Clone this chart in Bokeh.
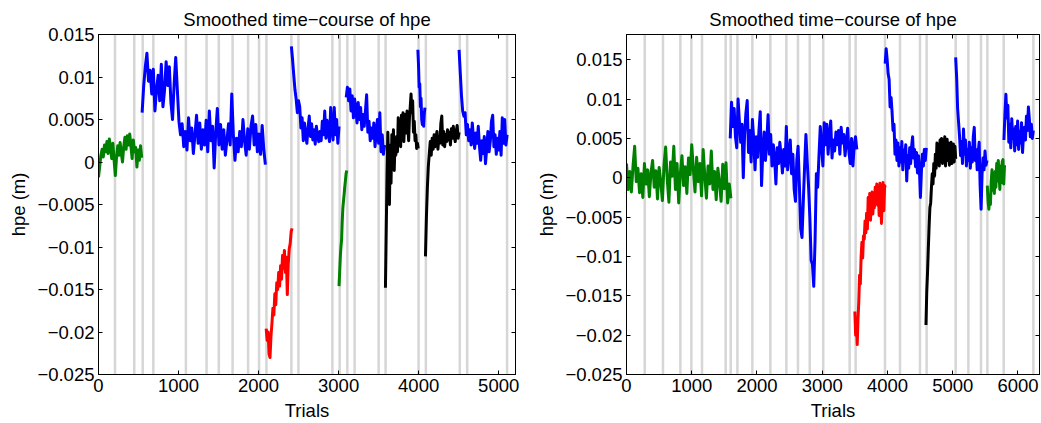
import numpy as np
from bokeh.plotting import figure
from bokeh.models import FixedTicker, LinearAxis, CustomJSTickFormatter, Range1d
from bokeh.layouts import row
from bokeh.embed import file_html
from bokeh.resources import INLINE

TITLE = "Smoothed time\u2212course of hpe"
X_LABEL = "Trials"
Y_LABEL = "hpe (m)"
Y_TICKS = [-0.025, -0.02, -0.015, -0.01, -0.005, 0, 0.005, 0.01, 0.015]
LEFT_X_TICKS = [0, 1000, 2000, 3000, 4000, 5000]
RIGHT_X_TICKS = [0, 1000, 2000, 3000, 4000, 5000, 6000]
LEFT_XMAX = 5210
RIGHT_XMAX = 6330
LEFT_YMAX = 0.015
RIGHT_YMAX = 0.0182
YMIN = -0.025

# block boundaries (trials)
LEFT_BLOCKS = [206, 447, 552, 685, 1092, 1350, 1503, 1675, 1869, 2006, 2098, 2410, 2498,
               2922, 3013, 3109, 3200, 3500, 3587, 3999, 4090, 4514, 4606, 5105]
RIGHT_BLOCKS = [279, 559, 826, 994, 1157, 1520, 1597, 1700, 1929, 2205, 2450, 2628, 2808,
                3015, 3420, 3512, 3962, 4192, 4498, 4600, 5045, 5240, 5433, 5531, 5781, 6236]

GREEN = "#008000"
BLUE = "#0000FF"
RED = "#FF0000"
BLACK = "#000000"

# ---------------- left panel segments (hpe in mm) ----------------
L1_span = (0, 540)
L1_green = [-1.8, -0.5, 0.8, 1.5, 0.6, 2.0, 1.2, 2.4, 1.0, 2.7, 1.8, 0.4, 2.2, 0.2, -1.6, 0.5,
            1.9, 0.8, 2.3, 1.0, 0.0, 1.8, 2.9, 1.5, 3.1, 2.0, 3.3, 1.9, 0.4, 2.6, 1.2, 1.7,
            -0.6, 1.4, 0.2, 1.9, 0.5]
L2_span = (545, 2085)
L2_blue = [5.8, 9.0, 11.2, 12.8, 9.5, 10.8, 8.0, 10.9, 6.0, 8.5, 10.2, 7.2, 11.5, 6.5, 8.4, 11.8,
           9.0, 11.2, 7.0, 5.0, 9.2, 12.3, 8.5, 4.8, 3.2, 4.5, 1.8, 3.6, 1.4, 5.2, 2.5, 4.0,
           1.0, 3.2, 5.5, 2.2, 4.6, 1.5, 3.8, 2.0, 4.9, 1.2, 6.0, 2.5, 4.2, -0.7, 3.5, 6.3,
           2.0, 4.4, 1.5, 3.8, 0.8, 2.6, 4.5, 2.0, 8.0, 3.2, 0.2, 2.8, 1.2, 3.6, 1.8, 5.0,
           2.5, 0.8, 3.9, 1.5, 4.2, 5.4, 2.0, 4.4, 1.2, 3.3, 0.9, 4.3, 1.5, -0.3]
L3_span = (2095, 2419)
L3_red = [-19.6, -21.0, -20.0, -22.6, -23.0, -20.5, -19.0, -17.2, -18.0, -15.5, -16.8, -14.2,
          -15.0, -13.0, -14.6, -12.2, -13.8, -11.0, -12.5, -10.4, -13.0, -11.2, -15.6, -12.0,
          -10.2, -9.6, -8.2, -7.8]
L4_span = (2410, 3005)
L4_blue = [13.6, 12.0, 10.2, 8.5, 7.4, 5.8, 7.2, 6.5, 4.0, 5.2, 2.5, 4.6, 3.2, 2.2, 4.0, 5.4,
           3.0, 4.5, 2.6, 3.8, 2.1, 4.2, 3.0, 2.4, 3.6, 2.5, 4.8, 3.2, 6.0, 2.8, 4.9, 3.6,
           2.4, 6.4, 4.0, 2.6, 6.4, 3.2, 5.0, 2.2, 4.2]
L5_span = (3005, 3101)
L5_green = [-14.6, -13.0, -11.2, -10.0, -9.2, -7.0, -5.4, -4.6, -3.8, -2.9, -2.2, -1.4, -1.0]
L6_span = (3095, 3575)
L6_blue = [7.6, 8.8, 7.2, 8.6, 6.0, 7.8, 5.2, 7.4, 6.2, 4.6, 7.0, 5.0, 6.4, 3.8, 5.6, 4.2,
           6.0, 7.9, 3.5, 4.8, 2.5, 4.0, 2.8, 4.6, 1.8, 3.5, 5.0, 2.2, 5.8, 1.2, 3.2, 0.9, 2.0]
L7_span = (3585, 3995)
L7_black = [-14.8, -8.0, -1.5, 3.5, -0.5, -5.0, 2.0, -2.5, 3.2, 0.5, 3.8, -1.0, 2.5, 0.8, 3.0,
            1.2, 5.2, 2.8, 4.6, 1.8, 5.5, 3.0, 5.8, 2.4, 4.8, 5.6, 3.4, 6.0, 4.2, 2.5, 5.2,
            6.5, 8.0, 5.8, 7.2, 3.5, 4.8, 2.5, 3.2, 1.6, 2.2, 1.6]
L8_span = (3990, 4078)
L8_blue = [13.2, 11.5, 8.8, 9.2, 6.5, 7.5, 5.0, 4.4, 5.8, 4.2, 5.6, 6.4]
L9_span = (4085, 4505)
L9_black = [-11.1, -6.5, -3.0, -0.5, 1.0, 2.4, 0.8, 2.8, 1.5, 3.2, 1.8, 2.9, 3.6, 1.5, 3.0, 2.2,
            4.5, 5.4, 2.0, 3.6, 1.8, 3.2, 2.4, 3.8, 2.6, 3.5, 2.0, 3.9, 2.8, 4.2, 3.0, 2.4,
            3.6, 4.3, 2.8, 3.5]
L10_span = (4505, 5105)
L10_blue = [13.2, 10.5, 7.8, 6.0, 5.4, 5.8, 3.2, 4.4, 2.5, 3.8, 2.0, 4.6, 2.8, 1.6, 3.4, 2.2,
            4.2, 1.8, 0.2, 2.5, 1.0, 3.0, -0.2, 1.5, 3.6, 1.2, 2.4, 4.8, 5.5, 1.8, 3.2, 0.9,
            2.8, 1.4, 3.6, 0.8, 5.2, 2.2, 5.0, 2.0, 3.2]

# ---------------- right panel segments (hpe in mm) ----------------
R1_span = (0, 1600)
R1_green = [1.8, -1.5, 0.8, -1.8, 1.5, 4.0, -0.5, 1.2, -1.9, 0.5, -2.5, 1.8, -0.8, 1.0, -2.4,
            0.6, 2.2, -1.2, 0.9, -2.7, 1.3, -0.5, -2.9, 1.6, 3.9, -0.3, -3.1, 2.0, 0.2, 4.0,
            -1.5, 1.8, -3.2, 0.5, 2.8, -1.0, 1.4, -2.0, 2.5, 0.4, 4.2, 1.0, -1.8, 2.6, -0.5,
            1.8, -2.3, 3.6, 0.2, -2.6, 1.5, -0.8, 3.4, -1.5, 0.8, -2.8, 1.2, -0.6, -3.0, 1.7,
            -1.4, 1.9, -3.2, -0.8, -2.6]
R2_span = (1590, 3530)
R2_blue = [5.0, 9.6, 6.5, 8.8, 5.2, 3.8, 10.0, 7.2, 4.5, 6.8, 0.0, 5.5, 8.2, 9.8, 3.2, 6.0,
           2.0, 7.4, 4.8, 1.0, 5.2, 2.6, 6.0, 8.4, -1.0, 3.5, 5.8, 2.2, 4.6, 8.0, 3.0, 5.5,
           1.5, 4.2, 2.5, -0.8, 3.8, 1.8, 4.5, 2.8, 0.6, 3.6, 1.5, 6.5, 1.0, 3.2, 4.8, 0.5,
           3.0, -1.5, -3.0, 2.2, 4.0, -1.0, -6.5, -7.6, -3.0, 1.5, 5.5, 2.0, -1.0, -5.0,
           -10.5, -11.0, -13.8, -8.0, 0.5, -1.2, 2.8, 6.5, 4.0, 1.5, 7.0, 4.2, 6.8, 3.0, 5.6,
           7.2, 2.5, 4.8, 3.4, 5.8, 4.2, 6.0, 3.0, 6.4, 4.4, 5.5, 2.8, 4.6, 6.3, 3.2, 1.8,
           5.0, 1.5, 4.0, 5.2, 3.6]
R3_span = (3500, 3968)
R3_red = [-17.0, -20.0, -18.5, -21.2, -18.0, -15.8, -12.4, -13.5, -10.0, -8.2, -10.2, -7.4,
          -7.8, -5.5, -7.0, -4.5, -6.5, -2.5, -4.8, -2.0, -5.4, -3.2, -1.8, -4.6, -2.2, -3.8,
          -1.2, -2.8, -0.8, -3.5, -1.5, -4.8, -0.7, -2.6, -5.8, -3.0, -0.6, -4.2, -1.0, -1.2]
R4_span = (3965, 4595)
R4_blue = [14.5, 16.4, 15.0, 13.2, 12.5, 9.0, 10.2, 8.4, 6.0, 6.8, 3.0, 4.8, 2.2, 4.4, 1.5,
           3.8, 2.0, 4.6, 1.0, 3.5, 2.4, 4.2, -0.4, 2.8, 1.2, 3.8, 1.8, 4.0, 5.2, 2.5, 3.6,
           1.4, 3.2, 0.6, 2.8, 1.0, -2.5, 0.8, 3.0, 1.5, 3.6, 2.2, 3.8]
R5_span = (4590, 5046)
R5_black = [-18.7, -14.5, -12.0, -9.0, -6.2, -3.8, -3.2, -1.2, 0.5, -0.8, 1.8, 0.2, 3.0, 1.2,
            4.4, 2.0, 3.6, 1.5, 4.8, 2.4, 5.0, 1.8, 4.0, 2.8, 5.2, 1.5, 3.8, 4.9, 2.2, 4.4,
            1.6, 3.5, 4.5, 1.8, 3.0, 4.3, 2.0, 4.0, 2.4]
R6_span = (5045, 5525)
R6_blue = [15.3, 12.8, 8.8, 7.0, 5.2, 2.8, 4.6, 1.8, 6.2, 3.0, 4.8, 1.5, 3.6, 2.2, 4.5, 1.2,
           3.8, 2.0, 5.2, 6.4, 2.2, 3.6, 1.0, 3.2, 4.5, -1.0, -4.0, 0.5, 2.5, 1.0, 3.4, 1.6,
           2.2]
R7_span = (5530, 5794)
R7_green = [-1.0, -3.0, -4.0, -2.2, -3.4, -0.5, 1.0, -1.6, 0.2, -2.0, 0.8, -1.2, 1.8, -0.4,
            2.2, 0.5, -1.5, 1.5, -0.6, 2.0, 2.3, -0.8, 1.6]
R8_span = (5785, 6235)
R8_blue = [4.8, 8.0, 10.6, 7.6, 9.2, 4.5, 6.8, 3.8, 7.5, 5.0, 6.2, 3.4, 6.5, 4.2, 7.2, 3.6,
           5.8, 4.4, 7.0, 3.2, 5.5, 6.4, 4.8, 7.8, 6.0, 9.0, 7.4, 5.2, 6.8, 5.0, 6.0]

LEFT_SEGMENTS = [(GREEN, L1_span, L1_green), (BLUE, L2_span, L2_blue), (RED, L3_span, L3_red),
                 (BLUE, L4_span, L4_blue), (GREEN, L5_span, L5_green), (BLUE, L6_span, L6_blue),
                 (BLACK, L7_span, L7_black), (BLUE, L8_span, L8_blue), (BLACK, L9_span, L9_black),
                 (BLUE, L10_span, L10_blue)]
RIGHT_SEGMENTS = [(GREEN, R1_span, R1_green), (BLUE, R2_span, R2_blue), (RED, R3_span, R3_red),
                  (BLUE, R4_span, R4_blue), (BLACK, R5_span, R5_black), (BLUE, R6_span, R6_blue),
                  (GREEN, R7_span, R7_green), (BLUE, R8_span, R8_blue)]

FONT = "Liberation Sans"
FSIZE = "18.5px"

yfmt_code = """
var v = Math.round(tick * 1000) / 1000;
var s = String(v);
if (v < 0) { s = '\\u2212' + s.slice(1); }
return s;
"""


def style_axis(ax, show_labels):
    ax.axis_line_color = "black"
    ax.axis_line_width = 1
    ax.major_tick_in = 4
    ax.major_tick_out = 0
    ax.major_tick_line_color = "black"
    ax.minor_tick_line_color = None
    if show_labels:
        ax.major_label_text_font = FONT
        ax.major_label_text_font_size = FSIZE
        ax.major_label_text_color = "black"
        ax.major_label_standoff = 4
        ax.axis_label_text_font = FONT
        ax.axis_label_text_font_size = FSIZE
        ax.axis_label_text_font_style = "normal"
        ax.axis_label_text_color = "black"
        ax.axis_label_standoff = 5
    else:
        # tick marks only: no label texts at all
        ax.major_label_text_font_size = "0px"
        ax.major_label_text_color = None
        ax.major_label_text_alpha = 0
        ax.major_label_standoff = 0


def make_fig(width, left, right, xmax, ymax, xticks, blocks, segments):
    p = figure(width=width, height=423, x_range=Range1d(0, xmax), y_range=Range1d(YMIN, ymax),
               output_backend="svg", toolbar_location=None, title=TITLE,
               min_border_left=left, min_border_right=right, min_border_top=34,
               min_border_bottom=46)
    p.background_fill_color = "white"
    p.border_fill_color = "white"
    p.outline_line_color = "black"
    p.xgrid.visible = False
    p.ygrid.visible = False
    p.title.align = "center"
    p.title.text_font = FONT
    p.title.text_font_size = FSIZE
    p.title.text_font_style = "normal"
    p.title.text_color = "black"

    n = len(blocks)
    p.segment(x0=blocks, y0=[YMIN] * n, x1=blocks, y1=[ymax] * n,
              line_color="#D6D6D6", line_width=2.5)
    for color, span, vals in segments:
        x = np.linspace(span[0], span[1], len(vals))
        y = np.array(vals) * 1e-3
        p.line(x, y, line_color=color, line_width=3, line_join="round")

    p.xaxis.ticker = FixedTicker(ticks=xticks)
    p.yaxis.ticker = FixedTicker(ticks=Y_TICKS)
    p.yaxis.formatter = CustomJSTickFormatter(code=yfmt_code)
    p.xaxis.axis_label = X_LABEL
    p.yaxis.axis_label = Y_LABEL
    style_axis(p.xaxis[0], True)
    style_axis(p.yaxis[0], True)

    top = LinearAxis(ticker=FixedTicker(ticks=xticks))
    rgt = LinearAxis(ticker=FixedTicker(ticks=Y_TICKS))
    style_axis(top, False)
    style_axis(rgt, False)
    p.add_layout(top, "above")
    p.add_layout(rgt, "right")
    return p


p1 = make_fig(520, 98, 5, LEFT_XMAX, LEFT_YMAX, LEFT_X_TICKS, LEFT_BLOCKS, LEFT_SEGMENTS)
p2 = make_fig(521, 106, 2, RIGHT_XMAX, RIGHT_YMAX, RIGHT_X_TICKS, RIGHT_BLOCKS, RIGHT_SEGMENTS)

layout = row(p1, p2)
open("out.html", "w").write(file_html(layout, INLINE))
